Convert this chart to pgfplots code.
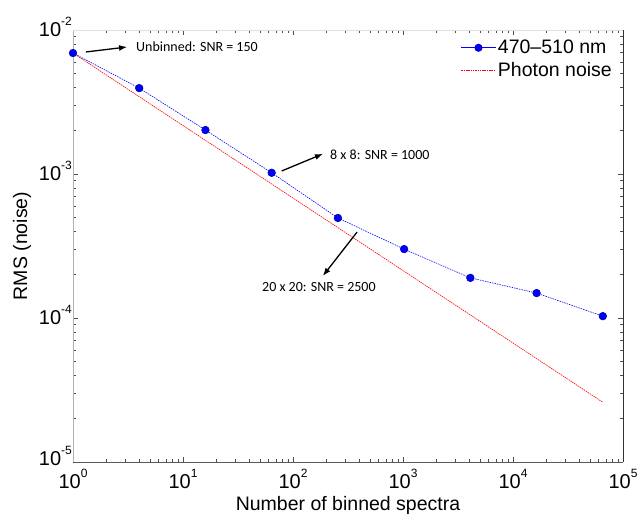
\documentclass[border=0pt]{standalone}
\usepackage{fontspec}
\setmainfont{Liberation Sans}
\newfontfamily\annfont{Carlito}
\usepackage{pgfplots}
\usetikzlibrary{arrows.meta}
\pgfplotsset{compat=1.18}
\newcommand\sups[1]{\raisebox{0.55em}{\fontsize{12}{12}\selectfont #1}}
\begin{document}
\begin{tikzpicture}
\begin{axis}[
  scale only axis,
  width=550pt, height=432pt,
  xmode=log, ymode=log,
  xmin=1, xmax=1e5, ymin=1e-5, ymax=1e-2,
  axis line style={draw=none},
  tick style={gray!60!black, line width=0.4pt},
  tick align=inside,
  major tick length=5pt, minor tick length=3pt,
  xtick={1,10,100,1000,10000,100000},
  xticklabels={10\sups{0},10\sups{1},10\sups{2},10\sups{3},10\sups{4},10\sups{5}},
  ytick={1e-5,1e-4,1e-3,1e-2},
  yticklabels={\raisebox{7pt}{10\sups{-5}},10\sups{-4},10\sups{-3},10\sups{-2}},
  ticklabel style={font=\fontsize{20}{22}\selectfont},
  yticklabel style={yshift=3pt, inner sep=1pt},
  xticklabel style={inner sep=0pt, yshift=-7pt},
  xlabel={Number of binned spectra},
  ylabel={RMS (noise)},
  label style={font=\fontsize{19.5}{22}\selectfont},
  xlabel style={at={(axis description cs:0.5,-0.1111)}, anchor=base, inner sep=0pt},
  ylabel style={at={(axis description cs:-0.0927,0.5)}, anchor=center, inner sep=0pt},
  legend style={draw=none, fill=none, at={(rel axis cs:1,1)}, xshift=-8pt, yshift=-7pt, anchor=north east, font=\fontsize{19.5}{22}\selectfont, row sep=3pt, inner sep=1pt, legend cell align=left},
  legend image code/.code={\draw[mark repeat=2,mark phase=2,#1] plot coordinates {(0cm,0cm) (0.6cm,0cm) (1.2cm,0cm)};},
  clip=false,
]
\addlegendimage{blue, solid, line width=0.8pt, mark=*, mark size=3.6pt, mark options={solid, fill=blue, draw=blue!70!black}}
\addlegendentry{470--510 nm}
\addlegendimage{red, dash pattern=on 1.5pt off 0.8pt, line width=0.6pt}
\addlegendentry{Photon noise}
\addplot[forget plot, blue, dash pattern=on 1.5pt off 1pt, line width=0.6pt, mark=*, mark size=3.8pt, mark options={solid, fill=blue, draw=blue!70!black}]
coordinates {(1,6.92e-3) (4,3.95e-3) (16,2.02e-3) (64,1.02e-3) (256,4.95e-4) (1024,3.01e-4) (4096,1.90e-4) (16384,1.49e-4) (65536,1.03e-4)};
\addplot[forget plot, red, dash pattern=on 1.5pt off 0.8pt, line width=0.6pt]
coordinates {(1,6.92e-3) (65536,2.6e-5)};
\draw[gray!60, line width=0.6pt] (rel axis cs:0,0) -- (rel axis cs:0,1);
\draw[gray!25, line width=0.4pt] (rel axis cs:0,1) -- (rel axis cs:1,1);
\draw[black!80, line width=0.6pt] (rel axis cs:1,0) -- (rel axis cs:1,1);
\draw[black!65, line width=1pt] (rel axis cs:0,0) -- (rel axis cs:1,0);
\draw[-{Latex[length=8pt,width=6pt]}, line width=1.3pt] (axis cs:1.31,7.04e-3) -- (axis cs:3.1,7.62e-3);
\node[anchor=west, inner sep=0pt, font=\annfont\fontsize{14}{16}\selectfont] at (axis cs:3.74,7.62e-3) {Unbinned: SNR = 150};
\draw[-{Latex[length=8pt,width=6pt]}, line width=1.3pt] (axis cs:79,1.05e-3) -- (axis cs:187,1.38e-3);
\node[anchor=west, inner sep=0pt, font=\annfont\fontsize{14}{16}\selectfont] at (axis cs:217,1.36e-3) {8 x 8: SNR = 1000};
\draw[-{Latex[length=8pt,width=6pt]}, line width=1.3pt] (axis cs:382,3.95e-4) -- (axis cs:187,1.96e-4);
\node[inner sep=0pt, font=\annfont\fontsize{14}{16}\selectfont] at (axis cs:172,1.64e-4) {20 x 20: SNR = 2500};
\coordinate (BL) at (rel axis cs:0,0);
\coordinate (TR) at (rel axis cs:1,1);
\end{axis}
\pgfresetboundingbox
\path[use as bounding box] ([shift={(-73pt,-52pt)}]BL) rectangle ([shift={(19pt,30pt)}]TR);
\end{tikzpicture}
\end{document}
